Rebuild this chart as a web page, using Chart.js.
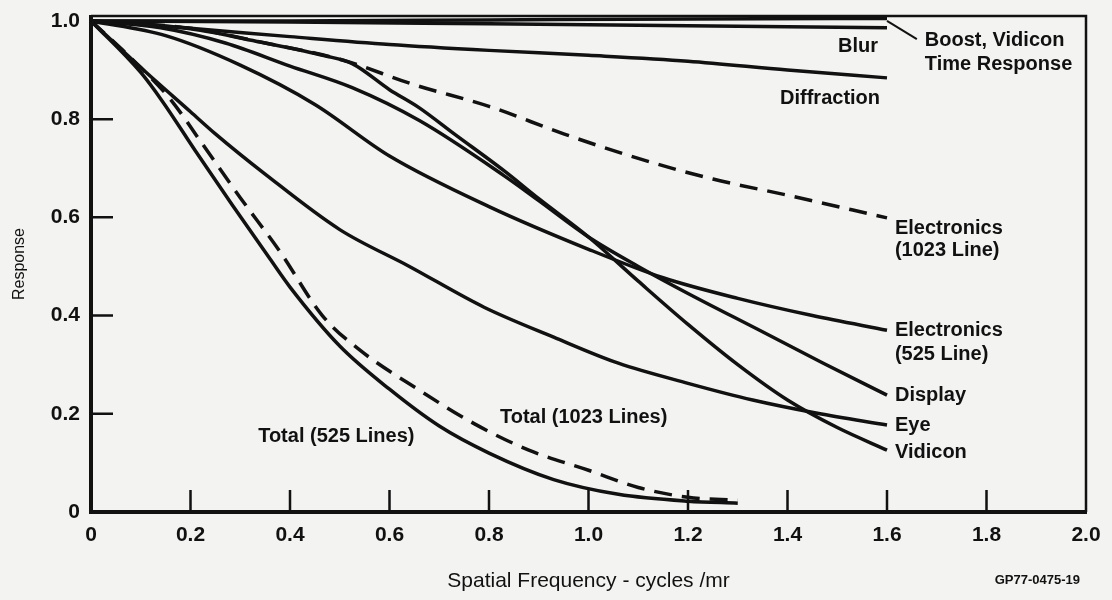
<!DOCTYPE html>
<html>
<head>
<meta charset="utf-8">
<script src="https://cdn.jsdelivr.net/npm/chart.js@4.4.1/dist/chart.umd.min.js"></script>
<style>
  html, body { margin: 0; padding: 0; background: #f3f3f1; }
  #mtfChart { display: block; }
</style>
</head>
<body>
<canvas id="mtfChart" width="1112" height="600"></canvas>
<script>
// spatial frequency (cycles/mr) and response
const boostX = [0, 0.4, 0.8, 1.2, 1.6];
const boostY = [1.0, 1.0, 1.002, 1.004, 1.005];

const blurX = [0, 0.4, 0.8, 1.2, 1.6];
const blurY = [1.0, 0.998, 0.994, 0.99, 0.986];

const diffractionX = [0, 0.2, 0.4, 0.6, 0.8, 1.0, 1.2, 1.4, 1.6];
const diffractionY = [1.0, 0.985, 0.968, 0.952, 0.94, 0.93, 0.918, 0.9, 0.884];

const elec1023X = [0, 0.2, 0.35, 0.5, 0.65, 0.8, 0.95, 1.1, 1.25, 1.4, 1.6];
const elec1023Y = [1.0, 0.985, 0.955, 0.922, 0.87, 0.826, 0.77, 0.72, 0.678, 0.645, 0.599];

const vidiconX = [0, 0.2, 0.34, 0.47, 0.525, 0.6, 0.66, 0.73, 0.83, 0.9, 1.0, 1.1, 1.2, 1.3, 1.4, 1.5, 1.6];
const vidiconY = [1.0, 0.984, 0.957, 0.929, 0.913, 0.86, 0.823, 0.77, 0.695, 0.638, 0.56, 0.47, 0.382, 0.3, 0.228, 0.172, 0.126];

const displayX = [0, 0.14, 0.27, 0.4, 0.525, 0.66, 0.83, 0.9, 1.0, 1.1, 1.2, 1.34, 1.47, 1.6];
const displayY = [1.0, 0.986, 0.955, 0.908, 0.864, 0.797, 0.685, 0.634, 0.56, 0.5, 0.445, 0.372, 0.304, 0.238];

const elec525X = [0, 0.15, 0.3, 0.45, 0.6, 0.8, 1.0, 1.15, 1.3, 1.45, 1.6];
const elec525Y = [1.0, 0.97, 0.91, 0.83, 0.725, 0.622, 0.535, 0.477, 0.435, 0.4, 0.37];

const eyeX = [0, 0.1, 0.2, 0.25, 0.35, 0.5, 0.64, 0.79, 0.93, 1.06, 1.2, 1.33, 1.46, 1.6];
const eyeY = [1.0, 0.905, 0.815, 0.77, 0.688, 0.575, 0.5, 0.417, 0.356, 0.303, 0.262, 0.228, 0.201, 0.177];

const total1023X = [0, 0.1, 0.16, 0.22, 0.3, 0.38, 0.465, 0.54, 0.66, 0.77, 0.88, 1.0, 1.1, 1.2, 1.3];
const total1023Y = [1.0, 0.905, 0.84, 0.755, 0.64, 0.53, 0.4, 0.33, 0.248, 0.18, 0.126, 0.085, 0.05, 0.03, 0.024];

const total525X = [0, 0.1, 0.143, 0.21, 0.284, 0.36, 0.4, 0.5, 0.6, 0.7, 0.8, 0.93, 1.06, 1.2, 1.3];
const total525Y = [1.0, 0.895, 0.837, 0.735, 0.625, 0.515, 0.458, 0.338, 0.25, 0.175, 0.12, 0.066, 0.036, 0.022, 0.018];

// leader from the top curve to its label
const leaderX = [1.6, 1.66];
const leaderY = [1.0, 0.963];

const xTicks = [0, 0.2, 0.4, 0.6, 0.8, 1.0, 1.2, 1.4, 1.6, 1.8, 2.0];
const yTicks = [0, 0.2, 0.4, 0.6, 0.8, 1.0];

const curveLabels = [
  { text: 'Blur', x: 1.582, y: 0.947, align: 'right' },
  { text: 'Diffraction', x: 1.586, y: 0.843, align: 'right' },
  { text: 'Boost, Vidicon', x: 1.676, y: 0.961, align: 'left' },
  { text: 'Time Response', x: 1.676, y: 0.912, align: 'left' },
  { text: 'Electronics', x: 1.616, y: 0.578, align: 'left' },
  { text: '(1023 Line)', x: 1.616, y: 0.532, align: 'left' },
  { text: 'Electronics', x: 1.616, y: 0.369, align: 'left' },
  { text: '(525 Line)', x: 1.616, y: 0.32, align: 'left' },
  { text: 'Display', x: 1.616, y: 0.238, align: 'left' },
  { text: 'Eye', x: 1.616, y: 0.177, align: 'left' },
  { text: 'Vidicon', x: 1.616, y: 0.122, align: 'left' },
  { text: 'Total (1023 Lines)', x: 0.822, y: 0.193, align: 'left' },
  { text: 'Total (525 Lines)', x: 0.336, y: 0.153, align: 'left' }
];

const FONT = '"Liberation Sans", Arial, sans-serif';
const INK = '#111';

function pts(xs, ys) {
  return xs.map((x, i) => ({ x: x, y: ys[i] }));
}

function curve(label, xs, ys, dashed) {
  return {
    label: label,
    data: pts(xs, ys),
    borderColor: INK,
    borderWidth: 3.5,
    borderDash: dashed ? [18, 10] : [],
    pointRadius: 0,
    fill: false,
    cubicInterpolationMode: 'monotone'
  };
}

const frame = {
  id: 'frame',
  beforeDraw(chart) {
    const c = chart.ctx;
    c.save();
    c.fillStyle = '#f3f3f1';
    c.fillRect(0, 0, chart.width, chart.height);
    c.restore();
  },
  afterDraw(chart) {
    const c = chart.ctx;
    const a = chart.chartArea;
    const xs = chart.scales.x;
    const ys = chart.scales.y;
    c.save();
    c.strokeStyle = INK;
    c.lineCap = 'butt';
    // top and right border
    c.lineWidth = 2.5;
    c.beginPath();
    c.moveTo(a.left, a.top);
    c.lineTo(a.right, a.top);
    c.lineTo(a.right, a.bottom);
    c.stroke();
    // axes
    c.lineWidth = 4;
    c.beginPath();
    c.moveTo(a.left, a.top - 1);
    c.lineTo(a.left, a.bottom);
    c.lineTo(a.right + 1, a.bottom);
    c.stroke();
    // inward tick marks
    c.lineWidth = 2.5;
    c.beginPath();
    xTicks.slice(1, -1).forEach(v => {
      const px = xs.getPixelForValue(v);
      c.moveTo(px, a.bottom);
      c.lineTo(px, a.bottom - 22);
    });
    yTicks.slice(1, -1).forEach(v => {
      const py = ys.getPixelForValue(v);
      c.moveTo(a.left, py);
      c.lineTo(a.left + 22, py);
    });
    c.stroke();
    // curve labels
    c.fillStyle = INK;
    c.font = 'bold 20px ' + FONT;
    c.textBaseline = 'middle';
    curveLabels.forEach(l => {
      c.textAlign = l.align;
      c.fillText(l.text, xs.getPixelForValue(l.x), ys.getPixelForValue(l.y));
    });
    c.font = 'bold 13px ' + FONT;
    c.textAlign = 'right';
    c.fillText('GP77-0475-19', chart.width - 32, 580);
    c.restore();
  }
};

const ctx = document.getElementById('mtfChart');

const mtfChart = new Chart(ctx, {
  type: 'line',
  data: {
    datasets: [
      curve('Boost, Vidicon Time Response', boostX, boostY, false),
      curve('Blur', blurX, blurY, false),
      curve('Diffraction', diffractionX, diffractionY, false),
      curve('Electronics (1023 Line)', elec1023X, elec1023Y, true),
      curve('Vidicon', vidiconX, vidiconY, false),
      curve('Display', displayX, displayY, false),
      curve('Electronics (525 Line)', elec525X, elec525Y, false),
      curve('Eye', eyeX, eyeY, false),
      curve('Total (1023 Lines)', total1023X, total1023Y, true),
      curve('Total (525 Lines)', total525X, total525Y, false),
      {
        label: 'leader',
        data: pts(leaderX, leaderY),
        borderColor: INK,
        borderWidth: 2,
        pointRadius: 0,
        fill: false
      }
    ]
  },
  options: {
    responsive: false,
    animation: false,
    layout: {
      padding: { left: 0, right: 26, top: 16, bottom: 0 }
    },
    plugins: {
      legend: { display: false },
      tooltip: { enabled: false }
    },
    scales: {
      x: {
        type: 'linear',
        min: 0,
        max: 2,
        afterBuildTicks: s => { s.ticks = xTicks.map(v => ({ value: v })); },
        afterFit: s => { s.height = 88; },
        grid: { display: false, drawTicks: false },
        border: { display: false },
        ticks: {
          color: INK,
          padding: 11,
          maxRotation: 0,
          font: { family: FONT, size: 21, weight: 'bold' },
          callback: v => (v === 0 ? '0' : v.toFixed(1))
        },
        title: {
          display: true,
          text: 'Spatial Frequency - cycles /mr',
          color: INK,
          font: { family: FONT, size: 21 },
          padding: { top: 0, bottom: 6 }
        }
      },
      y: {
        type: 'linear',
        min: 0,
        max: 1.01,
        afterBuildTicks: s => { s.ticks = yTicks.map(v => ({ value: v })); },
        afterFit: s => {
          s.width = 91;
          s.paddingTop = 0;
          s.paddingBottom = 0;
        },
        grid: { display: false, drawTicks: false },
        border: { display: false },
        ticks: {
          color: INK,
          padding: 11,
          font: { family: FONT, size: 21, weight: 'bold' },
          callback: v => (v === 0 ? '0' : v.toFixed(1))
        },
        title: {
          display: true,
          text: 'Response',
          color: INK,
          font: { family: FONT, size: 16 },
          padding: { top: 10, bottom: 0 }
        }
      }
    }
  },
  plugins: [frame]
});
</script>
</body>
</html>
